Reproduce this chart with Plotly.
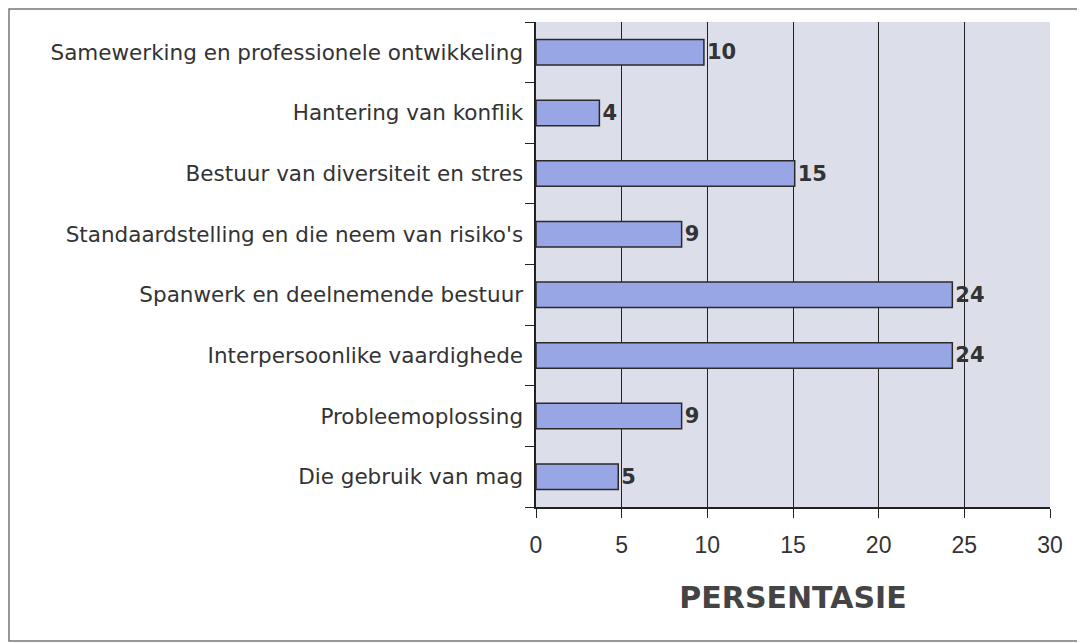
import plotly.graph_objects as go

categories = [
    "Samewerking en professionele ontwikkeling",
    "Hantering van konflik",
    "Bestuur van diversiteit en stres",
    "Standaardstelling en die neem van risiko's",
    "Spanwerk en deelnemende bestuur",
    "Interpersoonlike vaardighede",
    "Probleemoplossing",
    "Die gebruik van mag",
]
values = [9.8, 3.7, 15.1, 8.5, 24.3, 24.3, 8.5, 4.8]
value_labels = ["10", "4", "15", "9", "24", "24", "9", "5"]
x_ticks = [0, 5, 10, 15, 20, 25, 30]

OFF = 8  # page body margin
W, H = 1085 - OFF, 643 - OFF
L, R, T, B = 536 - OFF, 1050 - OFF, 22 - OFF, 507 - OFF

FONT = "DejaVu Sans, Liberation Sans, Arial"
ARIAL = "Liberation Sans, Arial"

fig = go.Figure()
fig.add_trace(go.Bar(
    y=categories, x=values, orientation="h",
    marker=dict(color="#98A6E6", line=dict(color="#2a2a2a", width=1.5)),
    text=value_labels, textposition="outside", cliponaxis=False,
    textfont=dict(family=FONT, size=21, color="#333333", weight="bold"),
    width=0.42,
))

def px_x(p):
    return (p - OFF - L) / (R - L)

def px_y(p):
    return (B - (p - OFF)) / (B - T)

fig.update_layout(
    width=W, height=H,
    margin=dict(l=L, r=W - R, t=T, b=H - B, pad=0),
    paper_bgcolor="white",
    plot_bgcolor="#DCDFE9",
    showlegend=False,
    font=dict(family=FONT, color="#333333"),
    xaxis=dict(
        range=[0, 30], tickvals=x_ticks, ticktext=[str(v) for v in x_ticks],
        showgrid=True, gridcolor="#222222", gridwidth=1,
        showline=True, linecolor="#222222", linewidth=1.5,
        ticks="outside", ticklen=9, tickcolor="#222222",
        ticklabelstandoff=8,
        tickfont=dict(family=ARIAL, size=23, color="#333333"),
        zeroline=False,
        title=dict(text="PERSENTASIE", font=dict(family=FONT, size=30, color="#444444", weight="bold"), standoff=30),
    ),
    yaxis=dict(
        categoryorder="array", categoryarray=categories[::-1],
        showline=True, linecolor="#222222", linewidth=1.5,
        ticks="outside", ticklen=9, tickcolor="#222222", tickson="boundaries",
        tickfont=dict(family=FONT, size=21.5, color="#333333"),
        ticksuffix=" ",
        showgrid=False,
    ),
    shapes=[
        dict(type="rect", xref="paper", yref="paper",
             x0=px_x(9), x1=px_x(1083), y0=px_y(641), y1=px_y(9),
             line=dict(color="#777777", width=1.5), layer="below"),
    ],
)

fig.write_html("out.html")
